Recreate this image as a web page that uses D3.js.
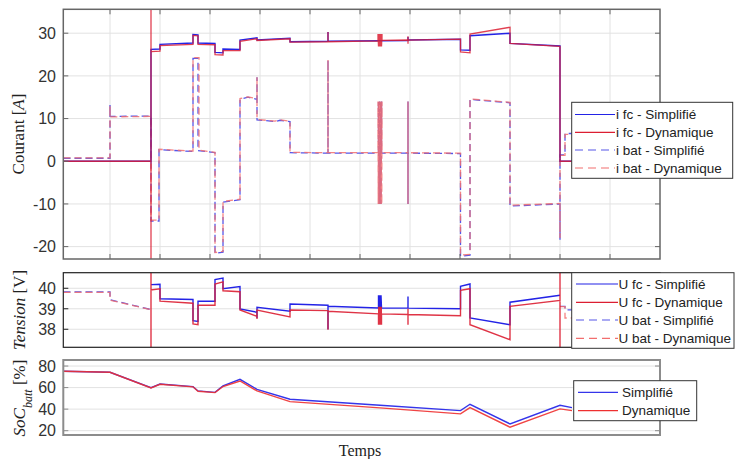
<!DOCTYPE html>
<html><head><meta charset="utf-8">
<script src="https://cdn.jsdelivr.net/npm/d3@7"></script>
<style>html,body{margin:0;padding:0;background:#fff;}svg{display:block;}</style>
</head><body>
<svg id="chart" width="745" height="459"></svg>
<script>
// ---------- DATA (time in s, values) ----------
const timeTicks = [100,200,300,400,500,600,700,800,900,1000,1100];
const courantTicks = [-20,-10,0,10,20,30];
const tensionTicks = [38,39,40];
const socTicks = [20,40,60,80];

const iFcSim = [[7,0],[182,0],[182,26.2],[200,26.3],[200,27.4],[266,27.7],[266,29.7],[276,29.6],[276,27.7],[310,27.6],[310,25.5],[326,25.4],[326,26.3],[360,26.2],[360,28.4],[394,28.9],[394,28.4],[460,28.8],[460,28.0],[536,28.1],[536,30.3],[536,28.1],[696,28.3],[696,29.1],[696,28.4],[801,28.6],[801,26.1],[820,26.0],[820,29.4],[900,30.0],[900,27.6],[1000,27.0],[1000,0],[1024,0]];
const iFcDyn = [[7,0],[182,0],[182,45],[182,-30],[182,25.7],[200,25.8],[200,27.1],[266,27.4],[266,29.5],[276,29.4],[276,27.4],[310,27.3],[310,25.0],[326,24.9],[326,25.9],[360,25.9],[360,28.1],[394,28.7],[394,28.3],[460,28.7],[460,27.9],[536,28.0],[536,30.3],[536,28.0],[636,28.2],[636,29.8],[637,26.9],[638,29.8],[639,26.9],[640,29.8],[641,26.9],[642,29.8],[643,26.9],[644,29.8],[644,28.3],[696,28.4],[696,27.5],[696,29.3],[696,28.4],[801,28.6],[801,25.6],[820,25.4],[820,29.8],[900,31.4],[900,27.6],[1000,26.9],[1000,0],[1024,0]];
const iBatSim = [[7,0.7],[100,0.7],[100,13.2],[100,10.5],[182,10.6],[182,-14],[198,-14],[198,2.7],[266,2.3],[266,24.1],[276,24.1],[276,2.5],[310,2.0],[310,-21.6],[326,-21.3],[326,-9.6],[360,-9.0],[360,14.5],[376,15.0],[394,14.5],[394,19.7],[394,9.7],[430,9.3],[440,9.6],[460,9.3],[460,2.0],[536,1.9],[536,23.7],[536,1.9],[637,1.9],[637,14],[638,-10],[639,14],[640,-10],[641,14],[642,-10],[643,14],[643,1.9],[696,1.9],[696,14],[696,-10],[696,14],[696,-10],[696,14],[696,-10],[696,1.9],[801,1.8],[801,-22.3],[820,-22.0],[820,14.5],[900,13.7],[900,-10.5],[1000,-10.0],[1000,-18.4],[1000,1.5],[1010,1.5],[1010,6.5],[1024,6.5]];
const iBatDyn = [[7,0.8],[100,0.8],[100,13.0],[100,10.4],[182,10.5],[182,-13.8],[198,-13.8],[198,2.8],[266,2.4],[266,24.3],[278,24.3],[278,2.6],[310,2.1],[310,-21.4],[326,-21.1],[326,-9.4],[360,-8.9],[360,14.7],[376,15.1],[394,14.6],[394,19.7],[394,9.8],[430,9.4],[440,9.7],[460,9.4],[460,2.1],[536,2.0],[536,23.7],[536,2.0],[636,2.0],[636,14],[636.5,-10],[637,14],[637.5,-10],[638,14],[638.5,-10],[639,14],[639.5,-10],[640,14],[640.5,-10],[641,14],[641.5,-10],[642,14],[642.5,-10],[643,14],[643.5,-10],[644,14],[644,2.0],[696,2.0],[696,14],[696,-10],[696,14],[696,-10],[696,14],[696,-10],[696,14],[696,-10],[696,2.0],[801,1.9],[801,-22.0],[820,-21.8],[820,14.6],[900,13.8],[900,-10.3],[1000,-9.9],[1000,-18.0],[1000,1.4],[1010,1.4],[1010,6.3],[1024,6.3]];

const uFcSim = [[182,40.18],[200,40.2],[200,39.49],[266,39.45],[266,38.42],[276,38.38],[276,39.37],[310,39.37],[310,40.42],[326,40.5],[326,39.98],[360,40.08],[360,38.99],[394,38.83],[394,38.55],[394,39.07],[460,38.88],[460,39.23],[536,39.17],[536,38.0],[536,39.12],[637,39.04],[637,39.66],[638,39.0],[638,39.66],[639,39.0],[639,39.66],[640,39.0],[640,39.66],[641,39.0],[641,39.66],[642,39.0],[642,39.66],[643,39.04],[696,39.03],[696,39.6],[696,39.03],[801,39.0],[801,40.1],[820,40.21],[820,38.55],[900,38.22],[900,39.32],[1000,39.66]];
const uFcDyn = [[182,36.5],[182,41.5],[182,39.92],[200,39.98],[200,39.37],[266,39.27],[266,38.26],[276,38.22],[276,39.17],[310,39.17],[310,40.21],[326,40.31],[326,39.88],[360,39.83],[360,38.94],[394,38.63],[394,38.5],[394,38.94],[460,38.6],[460,38.94],[536,38.91],[536,37.98],[536,38.88],[637,38.75],[637,38.22],[637.5,39.1],[638,38.22],[638.5,39.1],[639,38.22],[639.5,39.1],[640,38.22],[640.5,39.1],[641,38.22],[641.5,39.1],[642,38.22],[642.5,39.1],[643,38.22],[643,38.75],[696,38.72],[696,38.22],[696,39.0],[696,38.72],[801,38.66],[801,39.9],[820,39.98],[820,38.22],[900,37.49],[900,39.12],[1000,39.41],[1000,41.5],[1000,36.5]];
const uBatSim = [[7,39.82],[100,39.82],[100,39.44],[182,38.96],null,[1000,39.12],[1010,39.12],[1010,38.95],[1024,38.95]];
const uBatDyn = [[7,39.8],[100,39.8],[100,39.42],[182,38.95],null,[1000,39.1],[1010,39.1],[1010,38.55],[1024,38.55]];

const socSim = [[7,75.2],[100,74.2],[182,59.9],[200,63.3],[266,60.9],[276,56.9],[310,55.6],[326,61.5],[360,67.7],[394,58.4],[460,49.2],[640,43.6],[801,38.6],[820,44.5],[900,26.3],[1000,43.6],[1024,41.4]];
const socDyn = [[7,75.2],[100,74.2],[182,59.7],[200,63.1],[266,60.7],[276,56.6],[310,55.3],[326,61.0],[360,66.1],[394,56.9],[460,47.0],[640,41.2],[801,35.6],[820,41.4],[900,23.3],[1000,40.2],[1024,38.6]];

const legendTop = ["i fc - Simplifié","i fc - Dynamique","i bat - Simplifié","i bat - Dynamique"];
const legendMid = ["U fc - Simplifié","U fc - Dynamique","U bat - Simplifié","U bat - Dynamique"];
const legendBot = ["Simplifié","Dynamique"];

// ---------- STYLE ----------
const C_FC_S = "#2323e6", C_FC_D = "#dc1e32", C_BAT_S = "#5656e8", C_BAT_D = "#f26e6e";
const C_SOC_S = "#3535ea", C_SOC_D = "#ee3030";
const DASH = "7,4";

const svg = d3.select("#chart");
const x = d3.scaleLinear().domain([6.6, 1200]).range([63.3, 660]);

const panels = [
  {id:"top", y: d3.scaleLinear().domain([-22.9, 35.6]).range([259, 9.3]), ticks: courantTicks, vgrid:true, frame:"#666", fw:1.5, xticks:true},
  {id:"mid", y: d3.scaleLinear().domain([37.12, 40.76]).range([347.3, 272.7]), ticks: tensionTicks, vgrid:false, frame:"#222", fw:1.2, xticks:false},
  {id:"bot", y: d3.scaleLinear().domain([16, 85.6]).range([435, 360]), ticks: socTicks, vgrid:false, frame:"#8c8c8c", fw:2, xticks:false}
];

const defs = svg.append("defs");
panels.forEach(p => {
  const [y0, y1] = p.y.range();
  p.top = y1; p.bottom = y0;
  defs.append("clipPath").attr("id","clip-"+p.id).append("rect")
    .attr("x", x.range()[0]).attr("y", y1).attr("width", x.range()[1]-x.range()[0]).attr("height", y0-y1);
  const g = svg.append("g");
  p.g = g;
  g.selectAll(".hg").data(p.ticks).join("line")
    .attr("x1", x.range()[0]).attr("x2", x.range()[1])
    .attr("y1", d=>p.y(d)).attr("y2", d=>p.y(d))
    .attr("stroke", "#e2e2e2").attr("stroke-width", 1);
  if (p.vgrid) {
    g.selectAll(".vg").data(timeTicks).join("line")
      .attr("x1", d=>x(d)).attr("x2", d=>x(d)).attr("y1", y1).attr("y2", y0)
      .attr("stroke", "#e2e2e2").attr("stroke-width", 1);
  }
  g.selectAll(".yl").data(p.ticks).join("text")
    .attr("x", 56).attr("y", d=>p.y(d)).attr("dy","0.36em")
    .attr("text-anchor","end").attr("font-family","'Liberation Sans', Arial, sans-serif")
    .attr("font-size", 16).attr("fill","#333").text(d=>d);
  p.plot = svg.append("g").attr("clip-path","url(#clip-"+p.id+")");
});

function drawFrame(p) {
  const g = svg.append("g");
  const xl = x.range()[0], xr = x.range()[1];
  g.append("rect").attr("x", xl).attr("y", p.top).attr("width", xr-xl).attr("height", p.bottom-p.top)
    .attr("fill","none").attr("stroke", p.frame).attr("stroke-width", p.fw);
  p.ticks.forEach(t => {
    const yy = p.y(t);
    g.append("line").attr("x1", xl).attr("x2", xl+5).attr("y1", yy).attr("y2", yy).attr("stroke", p.frame).attr("stroke-width",1);
    g.append("line").attr("x1", xr-5).attr("x2", xr).attr("y1", yy).attr("y2", yy).attr("stroke", p.frame).attr("stroke-width",1);
  });
  if (p.xticks) {
    timeTicks.forEach(t => {
      g.append("line").attr("x1", x(t)).attr("x2", x(t)).attr("y1", p.top).attr("y2", p.top+5).attr("stroke", p.frame).attr("stroke-width",1);
      g.append("line").attr("x1", x(t)).attr("x2", x(t)).attr("y1", p.bottom-5).attr("y2", p.bottom).attr("stroke", p.frame).attr("stroke-width",1);
    });
  }
}

function series(p, data, color, dash, width, opacity) {
  const line = d3.line().defined(d => d !== null).x(d=>x(d[0])).y(d=>p.y(d[1]));
  p.plot.append("path").datum(data).attr("d", line)
    .attr("fill","none").attr("stroke", color).attr("stroke-width", width||1.3)
    .attr("stroke-dasharray", dash||null).attr("stroke-opacity", opacity||1)
    .attr("stroke-linejoin","miter").attr("stroke-miterlimit",2);
}

const [pTop, pMid, pBot] = panels;
series(pTop, iBatSim, C_BAT_S, DASH, 1.3);
series(pTop, iBatDyn, C_BAT_D, DASH, 1.3, 0.85);
series(pTop, iFcSim, C_FC_S, null, 1.4);
series(pTop, iFcDyn, C_FC_D, null, 1.3, 0.85);

series(pMid, uBatSim, C_BAT_S, DASH, 1.3);
series(pMid, uBatDyn, C_BAT_D, DASH, 1.3, 0.85);
series(pMid, uFcSim, C_FC_S, null, 1.4);
series(pMid, uFcDyn, C_FC_D, null, 1.4, 0.9);

series(pBot, socSim, C_SOC_S, null, 1.4);
series(pBot, socDyn, C_SOC_D, null, 1.4, 0.9);

panels.forEach(drawFrame);

// ---------- LEGENDS ----------
function legend(box, labels, styles, lineX0, lineX1, textX, rowY, fs) {
  const g = svg.append("g");
  g.append("rect").attr("x", box[0]).attr("y", box[1]).attr("width", box[2]).attr("height", box[3])
    .attr("fill","#fff").attr("stroke","#333").attr("stroke-width",1);
  labels.forEach((lab, i) => {
    const yy = rowY[i];
    g.append("line").attr("x1", lineX0).attr("x2", lineX1).attr("y1", yy).attr("y2", yy)
      .attr("stroke", styles[i][0]).attr("stroke-width", 1.2).attr("stroke-dasharray", styles[i][1]);
    g.append("text").attr("x", textX).attr("y", yy).attr("dy","0.35em")
      .attr("font-family","'Liberation Sans', Arial, sans-serif").attr("font-size", fs)
      .attr("fill","#222").text(lab);
  });
}
const st4 = [[C_FC_S,null],[C_FC_D,null],[C_BAT_S,"8,5"],[C_BAT_D,"8,5"]];
legend([571.7,102.3,161,76], legendTop, st4, 575, 615, 616, [114.5,132.3,150,168], 13.5);
legend([571.7,272.7,162.3,75.6], legendMid, st4, 576, 618, 618.5, [284,302.3,320,338.3], 13.5);
legend([573.7,380.7,123,40], legendBot, [[C_SOC_S,null],[C_SOC_D,null]], 578, 618, 622, [392.3,410.7], 13.5);

// ---------- AXIS LABELS ----------
const serif = "'Liberation Serif', 'DejaVu Serif', serif";
function ylabel(cx, cy, parts) {
  const t = svg.append("text").attr("transform", `translate(${cx},${cy}) rotate(-90)`)
    .attr("text-anchor","middle").attr("font-family", serif).attr("font-size", 17).attr("fill","#222");
  parts.forEach(pt => {
    const s = t.append("tspan").text(pt.t);
    if (pt.i) s.attr("font-style","italic");
    if (pt.sub) s.attr("font-size", 12).attr("baseline-shift","sub");
  });
}
ylabel(24, 134, [{t:"Courant ["},{t:"A",i:true},{t:"]"}]);
ylabel(25, 310, [{t:"Tension",i:true},{t:" [V]"}]);
ylabel(25, 398, [{t:"SoC",i:true},{t:"batt",i:true,sub:true},{t:" [%]"}]);

svg.append("text").attr("x", 360).attr("y", 456).attr("text-anchor","middle")
  .attr("font-family", serif).attr("font-size", 16).attr("fill","#222").text("Temps");
</script>
</body></html>
